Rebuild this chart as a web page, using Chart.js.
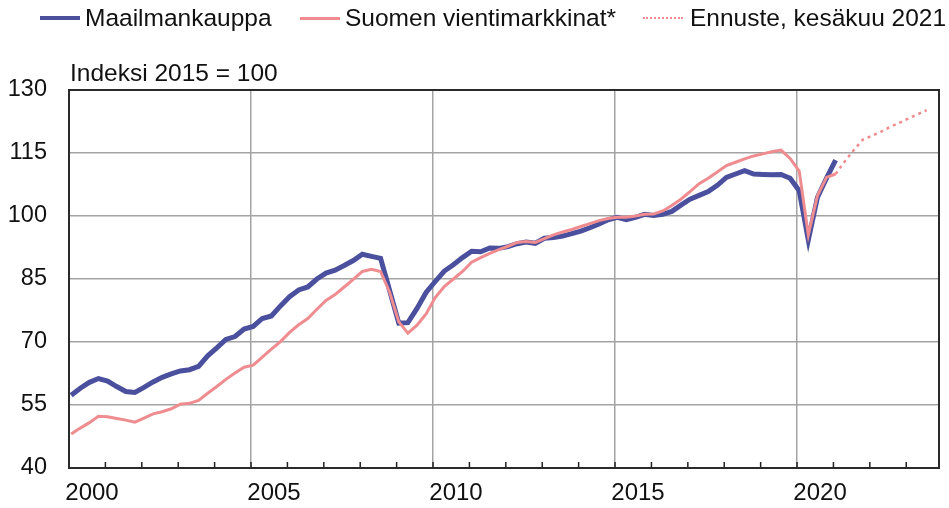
<!DOCTYPE html>
<html>
<head>
<meta charset="utf-8">
<script src="https://cdn.jsdelivr.net/npm/chart.js@4.4.1/dist/chart.umd.min.js"></script>
<style>
    body { margin: 0; background: #fff; font-family: "Liberation Sans", Arial, sans-serif; }
    #wrap { position: relative; width: 949px; height: 508px; overflow: hidden; }
    #chart { position: absolute; left: 0; top: 0; }
    .txt { position: absolute; font-size: 24.5px; line-height: 28px; color: #111; white-space: nowrap; }
    .swatch { position: absolute; }
</style>
</head>
<body>
<div id="wrap">
    <canvas id="chart" width="949" height="508"></canvas>

    <!-- legend -->
    <div class="swatch" style="left:40px;top:16px;width:40px;height:0;border-top:4.5px solid #4a4f9e;"></div>
    <div class="txt" style="left:85px;top:4px;">Maailmankauppa</div>
    <div class="swatch" style="left:300px;top:17px;width:40px;height:0;border-top:3px solid #ee8c90;"></div>
    <div class="txt" style="left:345px;top:4px;">Suomen vientimarkkinat*</div>
    <div class="swatch" style="left:643px;top:17px;width:40px;height:0;border-top:2.5px dotted #ee8c90;"></div>
    <div class="txt" style="left:690px;top:4px;">Ennuste, kesäkuu 2021</div>

    <div class="txt" style="left:70px;top:59px;">Indeksi 2015 = 100</div>
</div>

<script>
// Quarterly data 2000Q1 - 2021Q1, index 2015 = 100
const firstYear = 2000;

const worldTrade = [
    57.3, 59.0, 60.4, 61.3,   60.7, 59.4, 58.2, 58.0,
    59.2, 60.5, 61.6, 62.4,   63.1, 63.4, 64.2, 66.7,
    68.6, 70.6, 71.3, 73.1,   73.7, 75.6, 76.2, 78.6,
    80.8, 82.4, 83.1, 85.0,   86.4, 87.1, 88.2, 89.4,
    90.9, 90.4, 89.9, 82.2,   74.5, 74.6, 78.0, 81.8,
    84.4, 86.9, 88.4, 90.1,   91.6, 91.5, 92.4, 92.3,
    92.7, 93.4, 93.8, 93.5,   94.7, 94.9, 95.2, 95.8,
    96.4, 97.2, 98.1, 99.1,   99.7, 99.1, 99.7, 100.4,
    100.1, 100.4, 101.1, 102.6, 104.0, 104.9, 105.8, 107.3,
    109.2, 110.0, 110.8, 110.0, 109.9, 109.8, 109.9, 109.0,
    106.0, 94.3, 104.4, 109.0, 113.3
];

const exportMarkets = [
    48.1, 49.5, 50.8, 52.3,   52.2, 51.8, 51.4, 50.9,
    51.9, 52.9, 53.4, 54.1,   55.2, 55.4, 56.1, 57.8,
    59.4, 61.1, 62.6, 64.0,   64.5, 66.4, 68.3, 70.1,
    72.3, 74.1, 75.6, 77.8,   79.9, 81.3, 83.1, 84.9,
    86.8, 87.3, 86.8, 81.8,   74.8, 72.1, 74.0, 76.7,
    80.6, 83.2, 85.0, 86.8,   89.0, 90.1, 91.1, 92.0,
    92.8, 93.7, 93.9, 93.7,   94.6, 95.5, 96.2, 96.8,
    97.5, 98.2, 98.9, 99.4,   99.7, 99.7, 100.0, 100.4,
    100.5, 101.2, 102.5, 104.0, 105.8, 107.7, 109.0, 110.5,
    112.0, 112.8, 113.6, 114.3, 114.8, 115.3, 115.7, 113.7,
    110.7, 95.5, 104.8, 109.2, 110.0
];

// forecast 2021Q1 - 2023Q3
const forecastStart = 2021;
const forecast = [110.0, 113.0, 115.7, 118.2, 119.1, 120.1, 121.2, 122.2, 123.2, 124.2, 125.2];

const yearTicks = [];
for (let y = 2000; y <= 2023; y++) yearTicks.push(y);
const valueTicks = [40, 55, 70, 85, 100, 115, 130];

const BLUE = '#4a4f9e';
const PINK = '#ee8c90';
const GRID = '#a3a3a3';

function toPoints(values, startYear) {
    // quarter i is drawn a little after the start of its quarter
    return values.map((v, i) => ({ x: startYear + i / 4 + 0.06, y: v }));
}

const frame = {
    id: 'frame',
    afterDatasetsDraw(chart) {
        const { ctx, chartArea: a, scales } = chart;
        ctx.save();
        // small inward year ticks on the bottom axis
        ctx.strokeStyle = '#222';
        ctx.lineWidth = 1.5;
        yearTicks.forEach(v => {
            const px = scales.x.getPixelForValue(v);
            ctx.beginPath();
            ctx.moveTo(px, a.bottom);
            ctx.lineTo(px, a.bottom - 6);
            ctx.stroke();
        });
        ctx.lineWidth = 2;
        ctx.strokeStyle = '#2a2a2a';
        ctx.strokeRect(a.left, a.top, a.right - a.left, a.bottom - a.top);
        ctx.restore();
    }
};

new Chart(document.getElementById('chart'), {
    type: 'line',
    data: {
        datasets: [{
            label: 'Ennuste, kesäkuu 2021',
            data: toPoints(forecast, forecastStart),
            borderColor: PINK,
            borderWidth: 2.5,
            borderDash: [3, 4],
            pointRadius: 0,
            tension: 0
        }, {
            label: 'Suomen vientimarkkinat*',
            data: toPoints(exportMarkets, firstYear),
            borderColor: PINK,
            borderWidth: 3,
            pointRadius: 0,
            tension: 0
        }, {
            label: 'Maailmankauppa',
            data: toPoints(worldTrade, firstYear),
            borderColor: BLUE,
            borderWidth: 5,
            pointRadius: 0,
            tension: 0
        }]
    },
    options: {
        responsive: false,
        animation: false,
        layout: { padding: { left: 0, right: 10, top: 90, bottom: 0 } },
        plugins: {
            legend: { display: false },
            tooltip: { enabled: false }
        },
        scales: {
            x: {
                type: 'linear',
                min: 2000,
                max: 2023.9,
                afterBuildTicks: s => { s.ticks = yearTicks.map(v => ({ value: v })); },
                afterFit: s => { s.height = 40; },
                ticks: {
                    autoSkip: false,
                    maxRotation: 0,
                    labelOffset: 23,
                    padding: 11,
                    color: '#111',
                    font: { family: '"Liberation Sans", Arial, sans-serif', size: 24 },
                    callback: v => (v % 5 === 0 ? String(v) : '')
                },
                grid: {
                    drawTicks: false,
                    lineWidth: 1.5,
                    color: c => (c.tick && c.tick.value % 5 === 0 && c.tick.value > 2000) ? GRID : 'rgba(0,0,0,0)'
                },
                border: { display: false }
            },
            y: {
                min: 40,
                max: 130,
                afterBuildTicks: s => { s.ticks = valueTicks.map(v => ({ value: v })); },
                afterFit: s => { s.width = 69; },
                ticks: {
                    padding: 22,
                    color: '#111',
                    font: { family: '"Liberation Sans", Arial, sans-serif', size: 23.5 }
                },
                grid: {
                    drawTicks: false,
                    lineWidth: 1.5,
                    color: c => (c.tick && c.tick.value > 40 && c.tick.value < 130) ? GRID : 'rgba(0,0,0,0)'
                },
                border: { display: false }
            }
        }
    },
    plugins: [frame]
});
</script>
</body>
</html>
